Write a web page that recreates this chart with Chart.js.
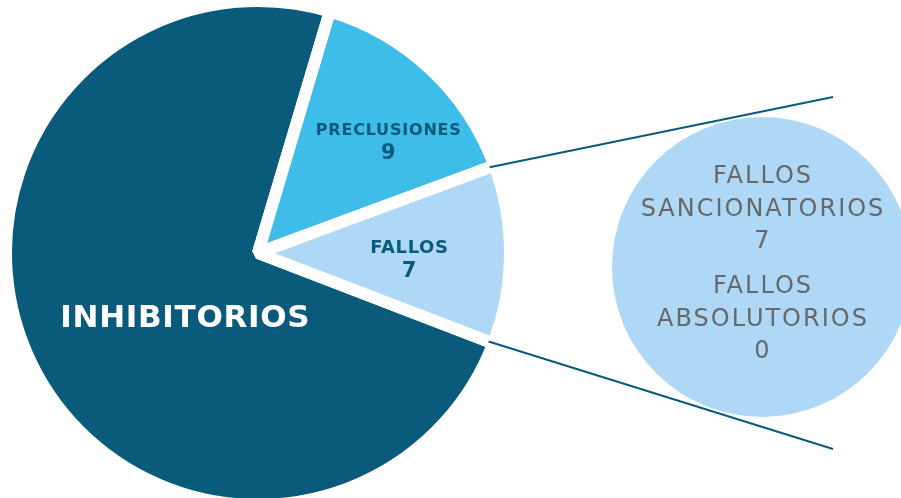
<!DOCTYPE html>
<html>
<head>
<meta charset="utf-8">
<script src="https://cdn.jsdelivr.net/npm/chart.js@4.4.1/dist/chart.umd.min.js"></script>
<style>
  html, body { margin: 0; padding: 0; background: #fff; }
  #wrap { position: relative; width: 901px; height: 498px; overflow: hidden; background: #fff; }
  #pie { position: absolute; left: 0; top: 0; }
  #detail { position: absolute; left: 602px; top: 107px; }
</style>
</head>
<body>
<div id="wrap">
  <canvas id="pie" width="901" height="520"></canvas>
  <canvas id="detail" width="320" height="320"></canvas>
</div>
<script>
// ── data ────────────────────────────────────────────────────────
const categories = ["INHIBITORIOS", "PRECLUSIONES", "FALLOS"];
const values = [45, 9, 7];
const showValue = [false, true, true];
const sliceColors = ["#0a5a7c", "#3dbde8", "#aed8f5"];

const fallosLabels = ["FALLOS SANCIONATORIOS", "FALLOS ABSOLUTORIOS"];
const fallosValues = [7, 0];

// ── slice label layout: [angle from north (deg), radius fraction, name px, value px, spacing px]
const labelLayout = [
  [228, 0.39, 31, 0, 0.7],
  [49.5, 0.68, 16, 21, 0.8],
  [92.3, 0.60, 18, 21, 0.6],
];
const FONT = "'DejaVu Sans', 'Open Sans', sans-serif";
const DARK = "#0a5a7c";

const sliceLabels = {
  id: "sliceLabels",
  afterDatasetsDraw(chart) {
    const ctx = chart.ctx;
    const arcs = chart.getDatasetMeta(0).data;
    const fallos = arcs[2];
    // connector lines from the FALLOS slice towards the detail circle
    const r = fallos.outerRadius - 5;
    const ends = [[833, 97], [833, 449]];
    ctx.save();
    ctx.strokeStyle = DARK;
    ctx.lineWidth = 2;
    [fallos.startAngle, fallos.endAngle].forEach((a, i) => {
      ctx.beginPath();
      ctx.moveTo(fallos.x + Math.cos(a) * r, fallos.y + Math.sin(a) * r);
      ctx.lineTo(ends[i][0], ends[i][1]);
      ctx.stroke();
    });
    ctx.restore();

    arcs.forEach((arc, i) => {
      const [deg, frac, nameSize, valSize, sp] = labelLayout[i];
      const a = (deg - 90) * Math.PI / 180;
      const x = arc.x + Math.cos(a) * arc.outerRadius * frac;
      const y = arc.y + Math.sin(a) * arc.outerRadius * frac;
      ctx.save();
      ctx.textAlign = "center";
      ctx.textBaseline = "middle";
      ctx.fillStyle = i === 0 ? "#ffffff" : DARK;
      ctx.letterSpacing = sp + "px";
      ctx.font = `bold ${nameSize}px ${FONT}`;
      if (showValue[i]) {
        ctx.fillText(categories[i], x + sp / 2, y - 11);
        ctx.font = `bold ${valSize}px ${FONT}`;
        ctx.letterSpacing = "0px";
        ctx.fillText(String(values[i]), x, y + 12);
      } else {
        ctx.fillText(categories[i], x + sp / 2, y);
      }
      ctx.restore();
    });
  },
};

new Chart(document.getElementById("pie"), {
  type: "pie",
  data: {
    labels: categories,
    datasets: [{
      data: values,
      backgroundColor: sliceColors,
      borderColor: "#ffffff",
      borderWidth: 12,
      radius: 252,
    }],
  },
  options: {
    responsive: false,
    animation: false,
    devicePixelRatio: 1,
    rotation: 111,
    layout: { padding: { left: 0, right: 385, top: 0, bottom: 14 } },
    plugins: { legend: { display: false }, tooltip: { enabled: false } },
  },
  plugins: [sliceLabels],
});

const detailText = {
  id: "detailText",
  afterDatasetsDraw(chart) {
    const ctx = chart.ctx;
    const arc = chart.getDatasetMeta(0).data[0];
    ctx.save();
    ctx.textAlign = "center";
    ctx.textBaseline = "middle";
    ctx.fillStyle = "#686868";
    ctx.font = `24px ${FONT}`;
    ctx.letterSpacing = "2px";
    let y = arc.y - 90;
    fallosLabels.forEach((lab, i) => {
      const lines = lab.split(" ").concat(String(fallosValues[i]));
      lines.forEach((ln) => {
        ctx.fillText(ln, arc.x + 1, y);
        y += 32.5;
      });
      y += 12.5;
    });
    ctx.restore();
  },
};

new Chart(document.getElementById("detail"), {
  type: "pie",
  data: {
    labels: fallosLabels,
    datasets: [{
      data: fallosValues,
      backgroundColor: ["#aed8f5", "#aed8f5"],
      borderWidth: 0,
      radius: 150,
    }],
  },
  options: {
    responsive: false,
    animation: false,
    devicePixelRatio: 1,
    plugins: { legend: { display: false }, tooltip: { enabled: false } },
  },
  plugins: [detailText],
});
</script>
</body>
</html>
